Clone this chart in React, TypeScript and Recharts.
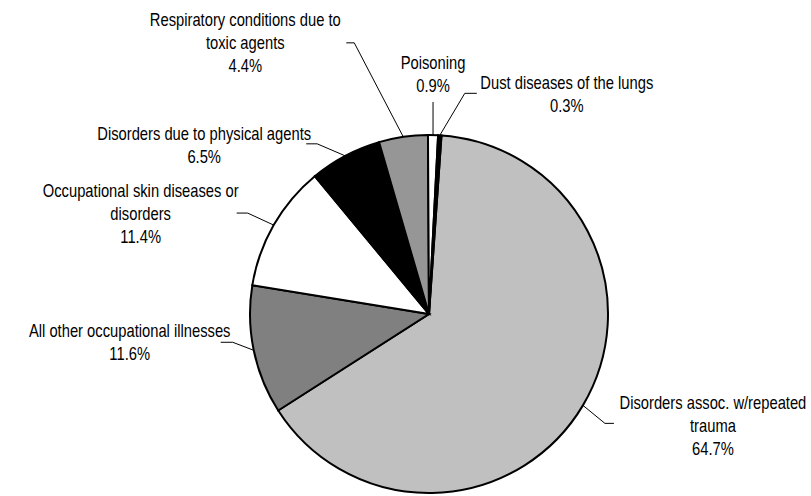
import React from "react";
import { PieChart, Pie, Cell } from "recharts";

// Occupational illness categories (line breaks mark label wrapping)
const categories: string[] = [
  "Disorders assoc. w/repeated\ntrauma",
  "All other occupational illnesses",
  "Occupational skin diseases or\ndisorders",
  "Disorders due to physical agents",
  "Respiratory conditions due to\ntoxic agents",
  "Poisoning",
  "Dust diseases of the lungs",
];

// Share of all occupational illnesses, percent
const shares: number[] = [64.7, 11.6, 11.4, 6.5, 4.4, 0.9, 0.3];

const fills: string[] = ["#C0C0C0", "#808080", "#FFFFFF", "#000000", "#969696", "#FFFFFF", "#000000"];

// Leader layout relative to the slice's outer edge point:
// elbow, horizontal end, text centre x and first-line centre y
const leaderLayout = [
  { ex: 22, ey: 18, hx: 31, tx: 130, ty: -3 },
  { ex: -21, ey: -8, hx: -33, tx: -124, ty: -20 },
  { ex: -26, ey: -12, hx: -37, tx: -133, ty: -35 },
  { ex: -28, ey: -12, hx: -39, tx: -141, ty: -22 },
  { ex: -49, ey: -94, hx: -57, tx: -158, ty: -117 },
  { ex: 0, ey: -33, hx: 0, tx: 0, ty: -73 },
  { ex: 25, ey: -42, hx: 37, tx: 127, ty: -53 },
];

const data = categories.map((name, i) => ({ name, value: shares[i] }));

const RAD = Math.PI / 180;
const LINE_H = 23;
// Narrow sans look: Arial-metric face squeezed horizontally
const FONT = "'Liberation Sans', Arial, sans-serif";
const SQUEEZE = 0.82;

function renderLabel(props: any) {
  const { cx, cy, midAngle, outerRadius, index, value, name } = props;
  const px = cx + outerRadius * Math.cos(-midAngle * RAD);
  const py = cy + outerRadius * Math.sin(-midAngle * RAD);
  const l = leaderLayout[index];
  const ex = px + l.ex;
  const ey = py + l.ey;
  const hx = px + l.hx;
  const lines = [...String(name).split("\n"), `${Number(value).toFixed(1)}%`];
  return (
    <g key={`lbl-${index}`}>
      <path d={`M${px},${py}L${ex},${ey}L${hx},${ey}`} stroke="#000" strokeWidth={1} fill="none" />
      <g transform={`translate(${px + l.tx},${py + l.ty}) scale(${SQUEEZE},1)`}>
        <text
          x={0}
          y={0}
          textAnchor="middle"
          dominantBaseline="central"
          fontFamily={FONT}
          fontSize={18}
          fill="#000"
        >
          {lines.map((t, k) => (
            <tspan key={k} x={0} y={k * LINE_H}>
              {t}
            </tspan>
          ))}
        </text>
      </g>
    </g>
  );
}

export default function App() {
  return (
    <div style={{ position: "absolute", left: 0, top: 0, width: 811, height: 496, background: "#fff" }}>
      <PieChart width={811} height={496} margin={{ top: 0, right: 0, bottom: 0, left: 0 }}>
        <Pie
          data={data}
          dataKey="value"
          nameKey="name"
          cx={429}
          cy={314}
          outerRadius={179}
          startAngle={86}
          endAngle={-274}
          stroke="#000"
          strokeWidth={2}
          label={renderLabel}
          labelLine={false}
          isAnimationActive={false}
        >
          {data.map((d, i) => (
            <Cell key={d.name} fill={fills[i]} />
          ))}
        </Pie>
      </PieChart>
    </div>
  );
}
